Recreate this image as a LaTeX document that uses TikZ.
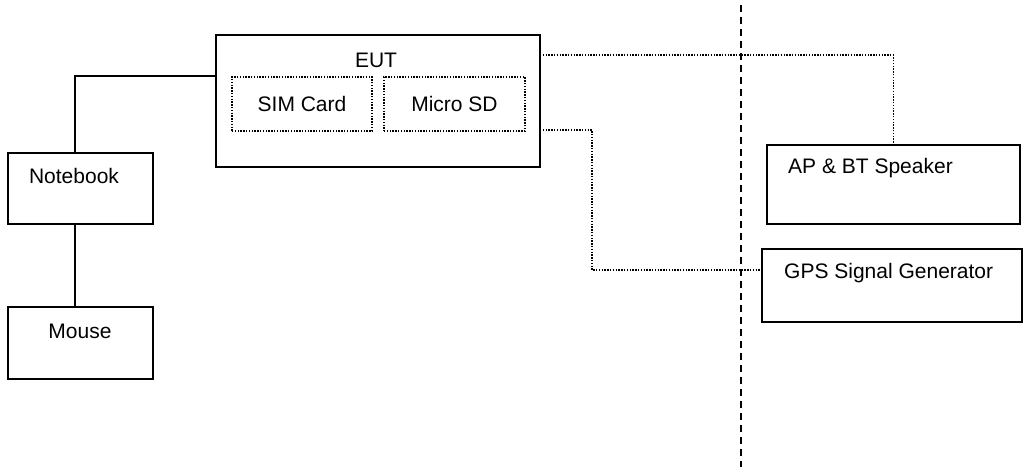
\documentclass[tikz,border=0pt]{standalone}
\usepackage{fontspec}
\setmainfont{Liberation Sans}
\usetikzlibrary{calc}
\begin{document}
\begin{tikzpicture}[x=1pt,y=-1pt,
  box/.style={draw,line width=2pt,inner sep=0pt},
  dotbox/.style={draw,line width=1.5pt,dash pattern=on 1.4pt off 1.4pt,inner sep=0pt,font=\fontsize{21}{24}\selectfont},
  lbl/.style={inner sep=0pt,font=\fontsize{21}{24}\selectfont},
  solidline/.style={line width=2pt},
  dotline/.style={line width=1.5pt,dash pattern=on 1.4pt off 1.4pt},
  dashline/.style={line width=2pt,dash pattern=on 7pt off 5pt}]
\useasboundingbox (0,0) rectangle (1024,472);
% boxes
\node[box,minimum width=324pt,minimum height=132pt] (eut) at (377.5,100.5) {};
\node[lbl] (euttext) at (376,60) {EUT};
\node[dotbox,minimum width=140pt,minimum height=54pt] (sim) at (302,104) {SIM Card};
\node[dotbox,minimum width=141pt,minimum height=54pt] (sd) at (454.5,104) {Micro SD};
\node[box,minimum width=145pt,minimum height=71pt] (notebook) at (80.5,188.5) {};
\node[lbl] (nbtext) at (74,176) {Notebook};
\node[box,minimum width=145pt,minimum height=72pt] (mouse) at (80.5,343) {};
\node[lbl] (mousetext) at (80,331) {Mouse};
\node[box,minimum width=253pt,minimum height=79pt] (ap) at (893.5,184.5) {};
\node[lbl,anchor=west] (aptext) at (788,168) {AP \& BT Speaker};
\node[box,minimum width=260pt,minimum height=73pt] (gps) at (892,285.5) {};
\node[lbl,anchor=west] (gpstext) at (784,273) {GPS Signal Generator};
% coordinates
\coordinate (nbtop) at (74.5,153);
\coordinate (eutout1) at (540,55);
\coordinate (eutout2) at (540,130);
\coordinate (bend2) at (592,130);
\coordinate (gpsin) at (762,270);
\coordinate (dtop) at (741,5);
\coordinate (dbot) at (741,467);
% connectors
\draw[solidline] (eut.west |- sim.north) -| (nbtop);
\draw[solidline] (nbtop |- notebook.south) -- (nbtop |- mouse.north);
\draw[dotline] (eutout1) -| (ap.north);
\draw[dotline] (eutout2) -- (bend2) |- (gpsin);
\draw[dashline] (dtop) -- (dbot);
\end{tikzpicture}
\end{document}
